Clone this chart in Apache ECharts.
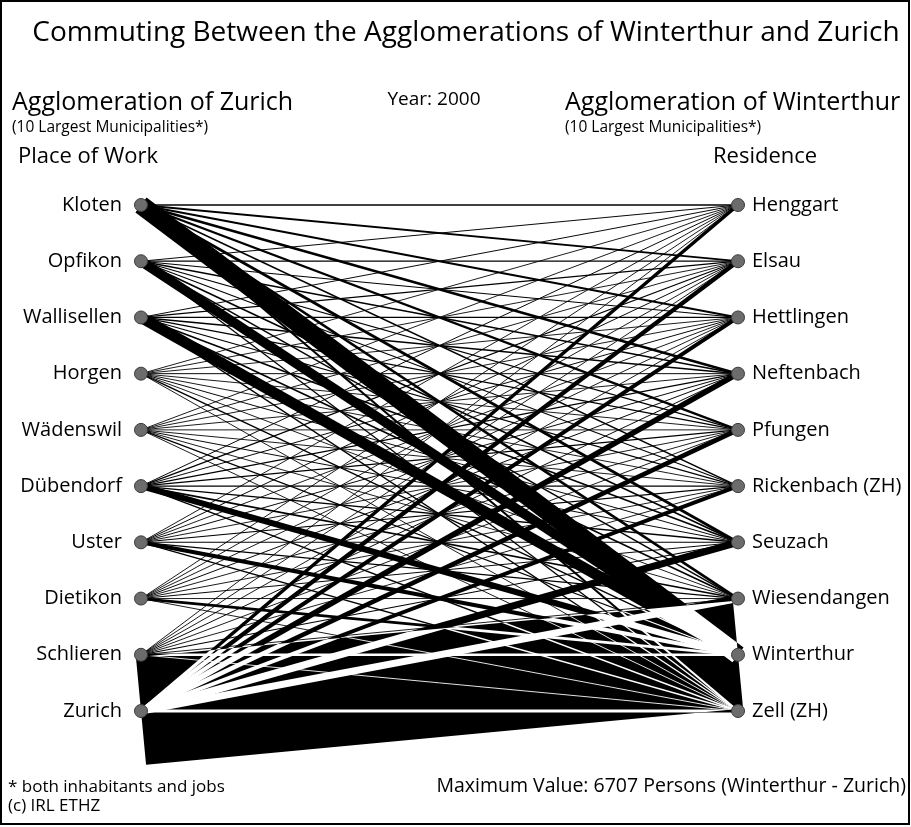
<!DOCTYPE html>
<html>
<head>
<meta charset="utf-8">
<script src="https://cdn.jsdelivr.net/npm/echarts@6/dist/echarts.min.js"></script>
<style>
  html, body { margin: 0; padding: 0; background: #fff; }
  #chart { width: 911px; height: 827px; }
</style>
</head>
<body>
<div id="chart"></div>
<script>
// places of work (agglomeration of Zurich), top to bottom
const workPlaces = ['Kloten', 'Opfikon', 'Wallisellen', 'Horgen', 'Wädenswil',
    'Dübendorf', 'Uster', 'Dietikon', 'Schlieren', 'Zurich'];
// places of residence (agglomeration of Winterthur), top to bottom
const residences = ['Henggart', 'Elsau', 'Hettlingen', 'Neftenbach', 'Pfungen',
    'Rickenbach (ZH)', 'Seuzach', 'Wiesendangen', 'Winterthur', 'Zell (ZH)'];

// commuters (persons), one row per place of work, columns follow residences
const kloten      = [90, 110, 135, 165, 145, 100, 180, 165, 1150, 135];
const opfikon     = [60, 75, 70, 90, 75, 65, 100, 90, 600, 80];
const wallisellen = [60, 80, 75, 95, 80, 70, 105, 100, 680, 85];
const horgen      = [55, 55, 55, 60, 55, 55, 60, 55, 85, 55];
const waedenswil  = [55, 55, 55, 55, 55, 55, 60, 55, 75, 55];
const duebendorf  = [60, 75, 60, 70, 65, 75, 90, 100, 380, 90];
const uster       = [55, 60, 55, 60, 55, 65, 65, 80, 250, 85];
const dietikon    = [55, 55, 55, 60, 55, 55, 60, 55, 170, 55];
const schlieren   = [55, 55, 55, 60, 55, 55, 65, 55, 160, 55];
const zurich      = [220, 260, 250, 350, 290, 240, 440, 430, 6707, 200];

const flowRows = [kloten, opfikon, wallisellen, horgen, waedenswil,
    duebendorf, uster, dietikon, schlieren, zurich];

const maxValue = 6707;
const maxWidth = 108; // px for the largest flow

const font = '"Open Sans", "Noto Sans", sans-serif';

// [workIndex, residenceIndex, persons]
const flows = [];
flowRows.forEach((row, i) => {
    row.forEach((v, j) => flows.push([i, j, v]));
});
// the largest flow is laid over the others and inverts what lies below it
const normalFlows = flows.filter(f => f[2] < maxValue);
const topFlows = flows.filter(f => f[2] >= maxValue);

function flowItem(color) {
    return (params, api) => {
        const a = api.coord([0, api.value(0)]);
        const b = api.coord([1, api.value(1)]);
        return {
            type: 'line',
            shape: { x1: a[0], y1: a[1], x2: b[0], y2: b[1] },
            style: {
                stroke: color,
                lineWidth: api.value(2) / maxValue * maxWidth,
                lineCap: 'butt'
            }
        };
    };
}

const chart = echarts.init(document.getElementById('chart'), null, { renderer: 'canvas' });

const option = {
    backgroundColor: '#ffffff',
    animation: false,
    grid: { left: 141, right: 173, top: 205, bottom: 116 },
    xAxis: { type: 'value', min: 0, max: 1, show: false },
    yAxis: [
        {
            type: 'category',
            data: workPlaces,
            inverse: true,
            boundaryGap: false,
            position: 'left',
            axisLine: { show: false },
            axisTick: { show: false },
            splitLine: { show: false },
            axisLabel: { margin: 19, fontSize: 20, fontFamily: font, color: '#000' }
        },
        {
            type: 'category',
            data: residences,
            inverse: true,
            boundaryGap: false,
            position: 'right',
            axisLine: { show: false },
            axisTick: { show: false },
            splitLine: { show: false },
            axisLabel: { margin: 14, fontSize: 20, fontFamily: font, color: '#000' }
        }
    ],
    series: [
        {
            type: 'custom',
            xAxisIndex: 0,
            yAxisIndex: 0,
            silent: true,
            clip: false,
            data: normalFlows,
            renderItem: flowItem('#000000'),
            z: 2
        },
        {
            // white stroke + difference blend = inverts everything under it
            type: 'custom',
            xAxisIndex: 0,
            yAxisIndex: 0,
            silent: true,
            clip: false,
            blendMode: 'difference',
            data: topFlows,
            renderItem: flowItem('#ffffff'),
            z: 3
        },
        {
            type: 'scatter',
            yAxisIndex: 0,
            symbolSize: 13,
            silent: true,
            itemStyle: { color: '#6c6c6c', borderColor: '#3c3c3c', borderWidth: 1, opacity: 1 },
            data: workPlaces.map((_, i) => [0, i]),
            z: 5
        },
        {
            type: 'scatter',
            yAxisIndex: 1,
            symbolSize: 13,
            silent: true,
            itemStyle: { color: '#6c6c6c', borderColor: '#3c3c3c', borderWidth: 1, opacity: 1 },
            data: residences.map((_, i) => [1, i]),
            z: 5
        }
    ],
    graphic: [
        // white sheet painted into the canvas so the blend has something to work on
        { type: 'rect', shape: { x: 0, y: 0, width: 911, height: 827 },
          style: { fill: '#ffffff' }, z: -10, silent: true },
        { type: 'rect', shape: { x: 1, y: 1, width: 908, height: 823 },
          style: { fill: 'none', stroke: '#000', lineWidth: 2 }, z: 10 },
        { type: 'text', x: 466, y: 33, z: 10,
          style: { text: 'Commuting Between the Agglomerations of Winterthur and Zurich',
                   font: '28px ' + font, fill: '#000', align: 'center', verticalAlign: 'middle' } },
        { type: 'text', x: 12, y: 103, z: 10,
          style: { text: 'Agglomeration of Zurich', font: '25px ' + font, fill: '#000', verticalAlign: 'middle' } },
        { type: 'text', x: 12, y: 128, z: 10,
          style: { text: '(10 Largest Municipalities*)', font: '15.5px ' + font, fill: '#000', verticalAlign: 'middle' } },
        { type: 'text', x: 434, y: 100, z: 10,
          style: { text: 'Year: 2000', font: '19px ' + font, fill: '#000', align: 'center', verticalAlign: 'middle' } },
        { type: 'text', x: 565, y: 103, z: 10,
          style: { text: 'Agglomeration of Winterthur', font: '25px ' + font, fill: '#000', verticalAlign: 'middle' } },
        { type: 'text', x: 565, y: 128, z: 10,
          style: { text: '(10 Largest Municipalities*)', font: '15.5px ' + font, fill: '#000', verticalAlign: 'middle' } },
        { type: 'text', x: 18, y: 157, z: 10,
          style: { text: 'Place of Work', font: '22px ' + font, fill: '#000', verticalAlign: 'middle' } },
        { type: 'text', x: 713, y: 157, z: 10,
          style: { text: 'Residence', font: '22px ' + font, fill: '#000', verticalAlign: 'middle' } },
        { type: 'text', x: 8, y: 787, z: 10,
          style: { text: '* both inhabitants and jobs', font: '17px ' + font, fill: '#000', verticalAlign: 'middle' } },
        { type: 'text', x: 8, y: 806, z: 10,
          style: { text: '(c) IRL ETHZ', font: '17px ' + font, fill: '#000', verticalAlign: 'middle' } },
        { type: 'text', x: 906, y: 786, z: 10,
          style: { text: 'Maximum Value: 6707 Persons (Winterthur - Zurich)', font: '19.5px ' + font,
                   fill: '#000', align: 'right', verticalAlign: 'middle' } }
    ]
};

chart.setOption(option);
window.addEventListener('resize', () => chart.resize());
</script>
</body>
</html>
